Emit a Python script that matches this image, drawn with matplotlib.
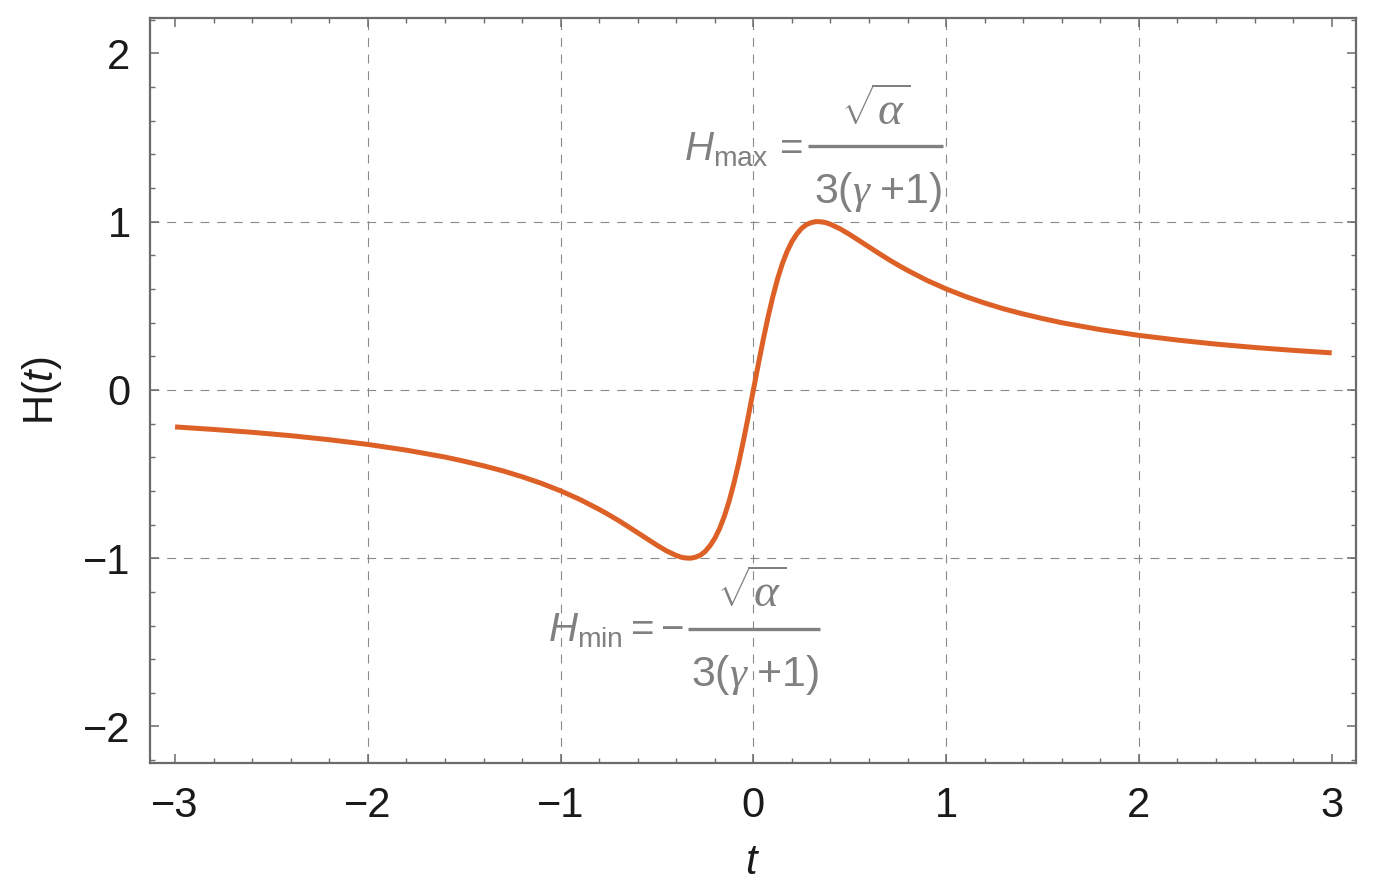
import matplotlib
matplotlib.use("Agg")
import matplotlib.pyplot as plt
from matplotlib.ticker import MultipleLocator, FixedLocator

# Values
t_vals = [-3.0, -2.8, -2.6, -2.4, -2.2, -2.0, -1.8, -1.6, -1.5, -1.4, -1.3, -1.2, -1.1,
          -1.0, -0.9, -0.8, -0.75, -0.7, -0.65, -0.6, -0.55, -0.5, -0.45, -0.4, -0.375,
          -0.35, -0.325, -0.3, -0.275, -0.25, -0.225, -0.2, -0.175, -0.15, -0.125, -0.1,
          -0.075, -0.05, -0.025,
          0.0, 0.025, 0.05, 0.075, 0.1, 0.125, 0.15, 0.175, 0.2, 0.225, 0.25, 0.275, 0.3,
          0.325, 0.35, 0.375, 0.4, 0.45, 0.5, 0.55, 0.6, 0.65, 0.7, 0.75, 0.8, 0.9, 1.0,
          1.1, 1.2, 1.3, 1.4, 1.5, 1.6, 1.8, 2.0, 2.2, 2.4, 2.6, 2.8, 3.0]
H_vals = [-0.220, -0.235, -0.252, -0.272, -0.296, -0.324, -0.358, -0.399, -0.424, -0.451,
          -0.481, -0.516, -0.555, -0.600, -0.651, -0.710, -0.742, -0.776, -0.812, -0.849,
          -0.886, -0.923, -0.957, -0.984, -0.994, -0.999, -1.000, -0.994, -0.982, -0.960,
          -0.926, -0.882, -0.823, -0.749, -0.658, -0.550, -0.428, -0.293, -0.149,
          0.0, 0.149, 0.293, 0.428, 0.550, 0.658, 0.749, 0.823, 0.882, 0.926, 0.960, 0.982,
          0.994, 1.000, 0.999, 0.994, 0.984, 0.957, 0.923, 0.886, 0.849, 0.812, 0.776,
          0.742, 0.710, 0.651, 0.600, 0.555, 0.516, 0.481, 0.451, 0.424, 0.399, 0.358,
          0.324, 0.296, 0.272, 0.252, 0.235, 0.220]

x_major = [-3, -2, -1, 0, 1, 2, 3]
y_major = [-2, -1, 0, 1, 2]
x_grid = [-2, -1, 0, 1, 2]
y_grid = [-1, 0, 1]

plt.rcParams['font.family'] = ['Liberation Sans', 'DejaVu Sans']
plt.rcParams['mathtext.fontset'] = 'custom'
plt.rcParams['mathtext.rm'] = 'Liberation Sans'
plt.rcParams['mathtext.it'] = 'Liberation Sans:italic'
plt.rcParams['mathtext.cal'] = 'Liberation Serif:italic'

W, Hh = 1385, 894
fig = plt.figure(figsize=(W / 100, Hh / 100), dpi=100)
ax = fig.add_axes([150 / W, 1 - 762.5 / Hh, (1356 - 150) / W, (762.5 - 18.3) / Hh])

frame_col = '#6b6b6b'
grid_col = '#8a8a8a'

for xg in x_grid:
    ax.axvline(xg, color=grid_col, lw=0.8, linestyle=(0, (8, 7)), zorder=1)
for yg in y_grid:
    ax.axhline(yg, color=grid_col, lw=0.8, linestyle=(0, (8, 7)), zorder=1)

ax.plot(t_vals, H_vals, color='#DD6127', lw=3.6, solid_capstyle='butt',
        solid_joinstyle='round', zorder=3)

ax.set_xlim(-3.13, 3.126)
ax.set_ylim(-2.214, 2.208)

ax.xaxis.set_major_locator(FixedLocator(x_major))
ax.yaxis.set_major_locator(FixedLocator(y_major))
ax.xaxis.set_minor_locator(MultipleLocator(0.2))
ax.yaxis.set_minor_locator(MultipleLocator(0.2))

ax.tick_params(which='both', direction='in', top=True, right=True, color=frame_col)
ax.tick_params(which='major', length=6.5, width=1.1, labelsize=30, labelcolor='#1a1a1a')
ax.tick_params(which='minor', length=3.6, width=1.0)
ax.tick_params(axis='x', which='major', pad=17)
ax.tick_params(axis='y', which='major', pad=14)

for s in ax.spines.values():
    s.set_color(frame_col)
    s.set_linewidth(1.6)

ax.set_xlabel('$t$', fontsize=30, labelpad=12, color='#1a1a1a')
ax.set_ylabel(r'$\mathrm{H}(t)$', fontsize=30, labelpad=14, color='#1a1a1a')


# pixel -> data helpers (for annotation placement)
def tx(px):
    return (px - 175) / 192.8 - 3


def hy(py):
    return (390 - py) / 168.3


txt_col = '#808080'
fs = 29

# H_max annotation
ax.text(tx(803), hy(160), r'$H_{\mathrm{max}}\,=$', fontsize=fs, color=txt_col,
        ha='right', va='baseline', zorder=4)
ax.plot([tx(808), tx(943)], [hy(146), hy(146)], color=txt_col, lw=2.4,
        solid_capstyle='butt', zorder=4)
ax.text(tx(876), hy(126), r'$\sqrt{\mathcal{\alpha}}$', fontsize=34, color=txt_col,
        ha='center', va='baseline', zorder=4)
ax.text(tx(878), hy(203), r'$3(\mathcal{\gamma}\;{+}1)$', fontsize=31, color=txt_col,
        ha='center', va='baseline', zorder=4)

# H_min annotation
ax.text(tx(684), hy(642), r'$H_{\mathrm{min}}{=}{-}$', fontsize=fs, color=txt_col,
        ha='right', va='baseline', zorder=4)
ax.plot([tx(688), tx(820)], [hy(629), hy(629)], color=txt_col, lw=2.4,
        solid_capstyle='butt', zorder=4)
ax.text(tx(752), hy(608), r'$\sqrt{\mathcal{\alpha}}$', fontsize=34, color=txt_col,
        ha='center', va='baseline', zorder=4)
ax.text(tx(755), hy(686), r'$3(\mathcal{\gamma}\;{+}1)$', fontsize=31, color=txt_col,
        ha='center', va='baseline', zorder=4)

fig.savefig('out.png', dpi=100)
